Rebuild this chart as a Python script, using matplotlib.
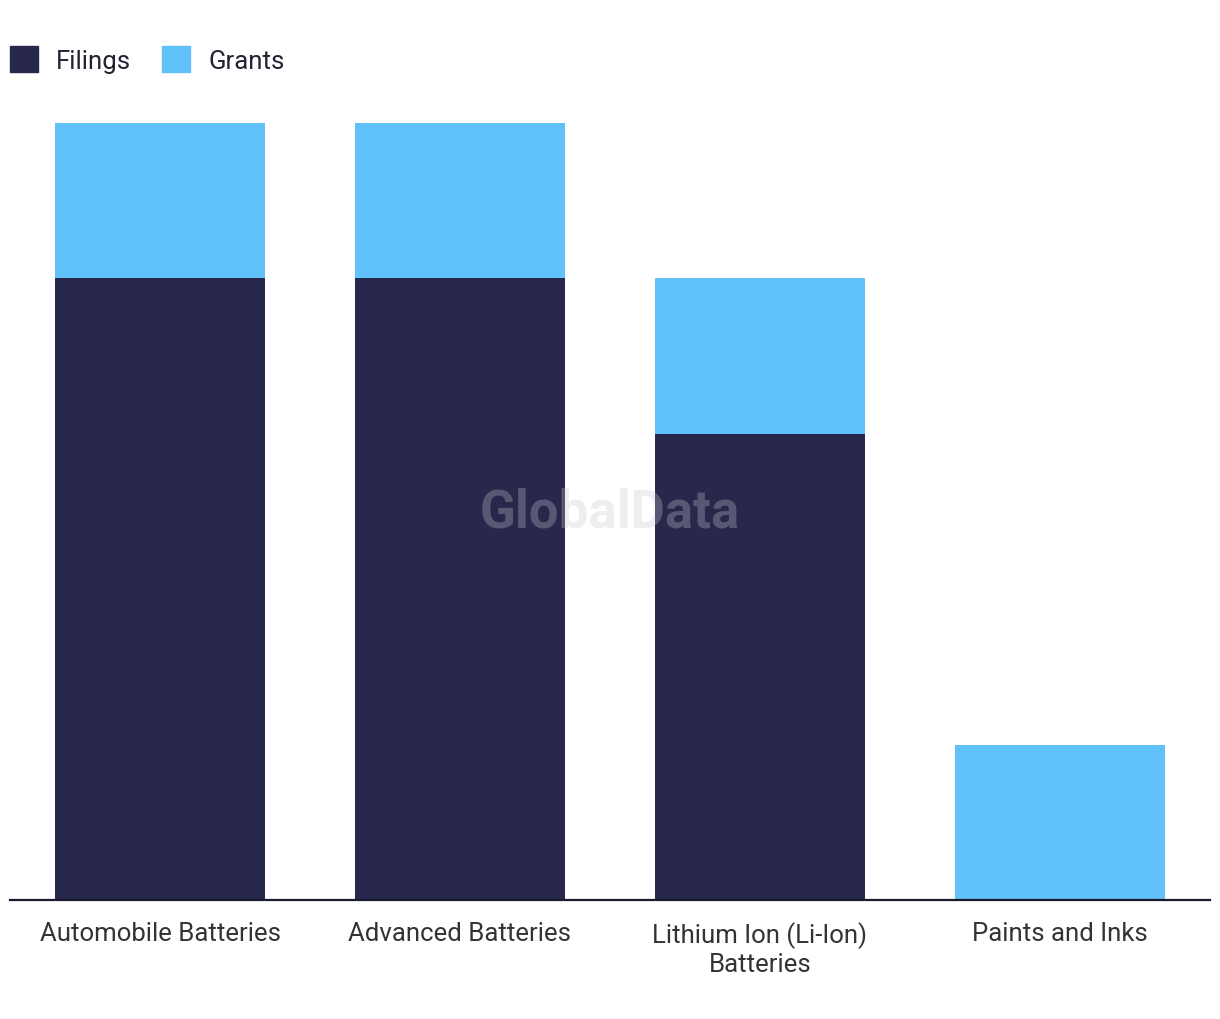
import numpy as np
import matplotlib
matplotlib.use("Agg")
import matplotlib.pyplot as plt
from matplotlib.patches import Patch

plt.rcParams['font.family'] = ['Roboto', 'DejaVu Sans']

categories = ["Automobile Batteries", "Advanced Batteries",
              "Lithium Ion (Li-Ion)\nBatteries", "Paints and Inks"]
filings = [4, 4, 3, 0]
grants = [1, 1, 1, 1]

navy = "#27284b"
blue = "#61c1f9"

fig = plt.figure(figsize=(12.2, 10.2), dpi=100)
ax = fig.add_axes([10 / 1220, (1020 - 901) / 1020, 1200 / 1220, 777 / 1020])

x = np.arange(len(categories))
ax.bar(x, filings, width=0.7, color=navy, zorder=2)
ax.bar(x, grants, width=0.7, bottom=filings, color=blue, zorder=2)

ax.set_xlim(-0.5, len(categories) - 0.5)
ax.set_ylim(0, 5)
ax.set_yticks([])
ax.set_xticks(x)
ax.set_xticklabels(categories, fontsize=18.5, color="#333333", linespacing=1.25)
ax.tick_params(axis='x', length=0, pad=15)
for s in ['top', 'right', 'left']:
    ax.spines[s].set_visible(False)
ax.spines['bottom'].set_color("#1a1a2e")
ax.spines['bottom'].set_linewidth(1.6)

# watermark
ax.text(0.5, 0.5, "GlobalData", transform=ax.transAxes, ha='center', va='center',
        fontsize=38, fontweight='bold', color="#c8c8d2", alpha=0.3, zorder=3)

handles = [Patch(color=navy, label="Filings"), Patch(color=blue, label="Grants")]
fig.legend(handles=handles, loc='upper left', bbox_to_anchor=(10 / 1220, 0.954), ncol=2,
           frameon=False, fontsize=18.5, handlelength=1.1, handleheight=1.2,
           handletextpad=0.7, columnspacing=1.2, borderpad=0, borderaxespad=0,
           labelcolor="#222233")

fig.savefig("out.png", dpi=100)
